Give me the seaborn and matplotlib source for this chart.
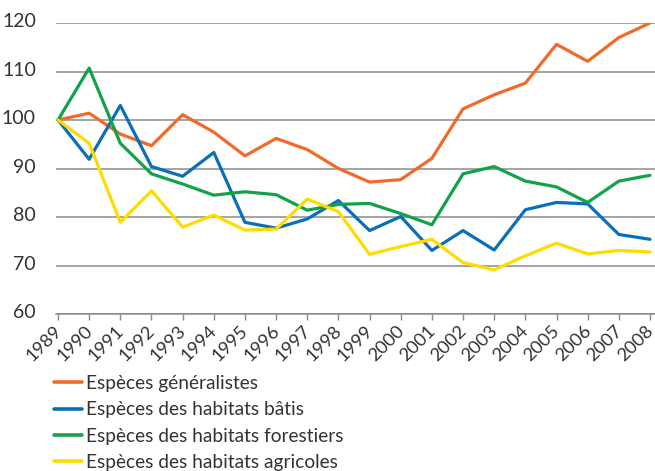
import matplotlib
matplotlib.use("Agg")
import matplotlib.pyplot as plt
import matplotlib.transforms as mtransforms
from matplotlib.lines import Line2D
import seaborn as sns
import pandas as pd

years = list(range(1989, 2009))
generalistes = [100, 101.4, 97.1, 94.7, 101.1, 97.5, 92.6, 96.2, 93.9, 90.0,
                87.2, 87.7, 92.1, 102.3, 105.2, 107.6, 115.6, 112.1, 117.0, 120.0]
batis = [100, 91.9, 103.0, 90.4, 88.4, 93.3, 78.9, 77.7, 79.6, 83.4,
         77.2, 80.1, 73.1, 77.2, 73.2, 81.5, 83.0, 82.7, 76.4, 75.4]
forestiers = [100, 110.7, 95.2, 88.9, 86.8, 84.5, 85.2, 84.6, 81.4, 82.6,
              82.8, 80.7, 78.4, 88.9, 90.4, 87.4, 86.2, 83.0, 87.4, 88.6]
agricoles = [100, 95.2, 78.9, 85.4, 77.9, 80.4, 77.3, 77.5, 83.7, 81.1,
             72.3, 73.9, 75.4, 70.6, 69.1, 72.0, 74.6, 72.4, 73.1, 72.8]

labels = ["Espèces généralistes", "Espèces des habitats bâtis",
          "Espèces des habitats forestiers", "Espèces des habitats agricoles"]
colors = ["#F26A2A", "#0A6FB6", "#13A24A", "#FFDB00"]

df = pd.concat([
    pd.DataFrame({"Année": years, "Indice": vals, "Série": lab})
    for vals, lab in zip([generalistes, batis, forestiers, agricoles], labels)
])

sns.set_theme(style="white")
plt.rcParams["font.family"] = ["Lato", "DejaVu Sans"]

fig = plt.figure(figsize=(6.55, 4.71), dpi=100)
ax = fig.add_axes([56 / 655, 157 / 471, 599 / 655, 291 / 471])

sns.lineplot(data=df, x="Année", y="Indice", hue="Série", palette=colors,
             linewidth=2.3, ax=ax, legend=False, sort=False)

ax.set_xlim(1989 - 2 / 31.16, 2008 + 5 / 31.16)
ax.set_ylim(60, 120)
ax.set_yticks(range(60, 121, 10))
ax.set_xticks(years)
ax.set_xticklabels([str(y) for y in years], rotation=45, ha="right",
                   rotation_mode="anchor", fontsize=13.2, color="#333333")
ax.tick_params(axis="y", length=0, labelsize=14, labelcolor="#333333", pad=14.5)
ax.tick_params(axis="x", length=4, width=1, color="#888888", pad=2, bottom=True)
shift_up = mtransforms.ScaledTranslation(0, 3 / 100, fig.dpi_scale_trans)
for lbl in ax.get_yticklabels():
    lbl.set_transform(lbl.get_transform() + shift_up)
shift_left = mtransforms.ScaledTranslation(-5 / 100, 0, fig.dpi_scale_trans)
for lbl in ax.get_xticklabels():
    lbl.set_transform(lbl.get_transform() + shift_left)
ax.yaxis.grid(True, color="#8c8c8c", linewidth=1.1)
ax.set_axisbelow(True)
for s in ["top", "right", "left"]:
    ax.spines[s].set_visible(False)
ax.spines["bottom"].set_color("#8a8a8a")
ax.spines["bottom"].set_linewidth(1.1)
ax.set_xlabel("")
ax.set_ylabel("")

handles = [Line2D([0], [0], color=c, linewidth=2.6) for c in colors]
fig.legend(handles, labels, loc="upper left", bbox_to_anchor=(54 / 655, 1 - 375 / 471),
           frameon=False, fontsize=13.8, handlelength=1.45, handletextpad=0.2,
           labelspacing=0.49, borderaxespad=0, borderpad=0,
           labelcolor="#333333")

fig.savefig("out.png", dpi=100)
